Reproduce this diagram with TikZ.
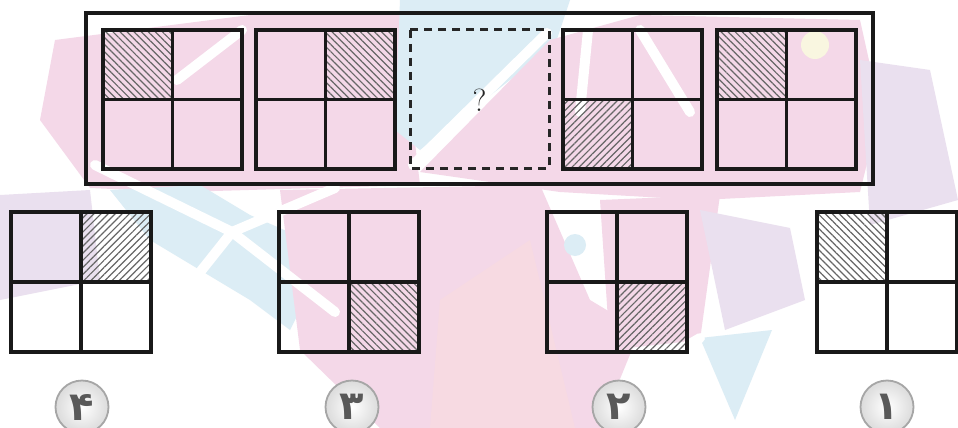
\documentclass[tikz,border=0pt]{standalone}
\usepackage{fontspec}
\newfontfamily\numfont[Script=Arabic]{DejaVu Sans}
\usetikzlibrary{patterns.meta}

\definecolor{bgpink}{HTML}{F4D8E8}
\definecolor{bgrose}{HTML}{F7DAE2}
\definecolor{bgblue}{HTML}{DCEDF5}
\definecolor{bglav}{HTML}{EAE0EF}
\definecolor{bgyel}{HTML}{F9F6E0}

\tikzset{
  box/.style={line width=3.6pt, black!90, line cap=rect},
  hatchNW/.style={pattern={Lines[angle=-45,distance=5pt,line width=1.2pt]}, pattern color=black!60},
  hatchNE/.style={pattern={Lines[angle=45,distance=5pt,line width=1.2pt]}, pattern color=black!60},
  gap/.style={white, line width=10pt, line cap=round},
  optnum/.style={circle, draw=black!35, line width=1.8pt, minimum size=53pt, inner sep=0pt,
    inner color=white, outer color=black!14, text=black!65,
    font=\numfont\bfseries\fontsize{40}{40}\selectfont},
}

% 2x2 grid: left, top, size
\newcommand{\gridbox}[3]{%
  \draw[box] (#1,#2) rectangle ++(#3,#3);
  \draw[box] (#1+#3/2,#2) -- ++(0,#3);
  \draw[box] (#1,#2+#3/2) -- ++(#3,0);
}

\begin{document}
\begin{tikzpicture}[x=1pt,y=-1pt]
 \useasboundingbox (0,0) rectangle (958,428);
 \fill[white] (0,0) rectangle (958,428);

 %background
 \fill[bgpink] (55,40) -- (250,15) -- (400,15) -- (420,185) -- (180,192) -- (90,188) -- (40,120) -- cycle;
 \fill[bgblue] (400,0) -- (570,0) -- (555,45) -- (420,150) -- (395,130) -- cycle;
 \fill[bgpink] (420,172) -- (550,40) -- (640,15) -- (860,20) -- (880,110) -- (860,192) -- (700,200) -- (560,192) -- cycle;
 \fill[bglav] (860,60) -- (930,70) -- (958,200) -- (870,225) -- cycle;
 \fill[bglav] (0,195) -- (90,190) -- (100,280) -- (0,300) -- cycle;
 \fill[bgblue] (110,190) -- (200,185) -- (250,215) -- (330,250) -- (290,330) -- (250,300) -- (150,240) -- cycle;
 \fill[bgpink] (280,190) -- (540,185) -- (590,300) -- (640,330) -- (600,428) -- (380,428) -- (300,350) -- cycle;
 \fill[bgpink] (600,200) -- (720,195) -- (700,340) -- (610,350) -- cycle;
 \fill[bgrose] (440,300) -- (530,240) -- (575,428) -- (430,428) -- cycle;
 \fill[bglav] (700,210) -- (790,228) -- (805,300) -- (725,330) -- cycle;
 \fill[bgblue] (700,338) -- (772,330) -- (735,420) -- cycle;
 \fill[bgyel] (815,45) circle (14);
 \fill[bgblue] (232,232) circle (12);
 \fill[bgblue] (575,245) circle (11);

 %white strokes
 \draw[gap] (232,232) -- (95,165);
 \draw[gap] (232,232) -- (335,188);
 \draw[gap] (232,232) -- (335,312);
 \draw[gap] (232,232) -- (150,335);
 \draw[gap] (413,165) -- (547,33);
 \draw[gap] (177,80) -- (242,30);
 \draw[gap] (588,30) -- (580,112);
 \draw[gap] (640,30) -- (690,112);
 \draw[gap] (790,330) -- (958,240);
 \draw[gap] (620,385) -- (700,338);

 %hatched cells
 \fill[hatchNW] (103,30) rectangle ++(69.5,69.5);
 \fill[hatchNW] (325.5,30) rectangle ++(69.5,69.5);
 \fill[hatchNE] (563,99.5) rectangle ++(69.5,69.5);
 \fill[hatchNW] (717,30) rectangle ++(69.5,69.5);
 \fill[hatchNE] (81,212) rectangle ++(70,70);
 \fill[hatchNW] (349,282) rectangle ++(70,70);
 \fill[hatchNE] (617,282) rectangle ++(70,70);
 \fill[hatchNW] (817,212) rectangle ++(70,70);

 %question row
 \draw[line width=3.2pt, black!90] (86,13) rectangle (873,184);
 \gridbox{103}{30}{139}
 \gridbox{256}{30}{139}
 \draw[line width=3pt, black!85, dash pattern=on 8pt off 6pt] (410,30) rectangle (549,168);
 \node[font=\fontsize{32}{34}\selectfont, text=black!85] (q) at (479.5,100) {?};
 \gridbox{563}{30}{139}
 \gridbox{717}{30}{139}

 %answer options
 \gridbox{11}{212}{140}
 \gridbox{279}{212}{140}
 \gridbox{547}{212}{140}
 \gridbox{817}{212}{140}

 \node[optnum] (opt4) at (82,407) {۴};
 \node[optnum] (opt3) at (352,407) {۳};
 \node[optnum] (opt2) at (619,407) {۲};
 \node[optnum] (opt1) at (887,407) {۱};
\end{tikzpicture}
\end{document}
